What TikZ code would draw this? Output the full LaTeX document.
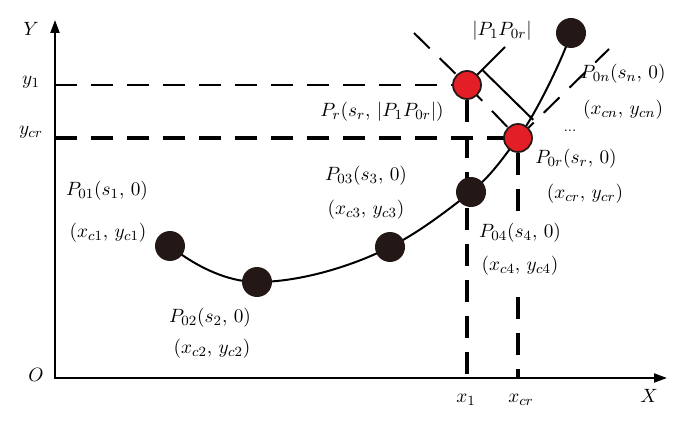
\documentclass[tikz,border=0pt]{standalone}
\usepackage{tikz}
\usetikzlibrary{arrows.meta,backgrounds,calc}
\definecolor{ptred}{RGB}{228,30,38}
\definecolor{ptblack}{RGB}{35,24,21}
\tikzset{
  blackpt/.style={circle,fill=ptblack,minimum size=0.6cm,inner sep=0pt},
  redpt/.style={circle,fill=ptred,draw=ptblack,line width=0.035cm,minimum size=0.56cm,inner sep=0pt},
  lbl/.style={font=\fontsize{11}{13}\selectfont,inner sep=0pt},
  lblbg/.style={lbl,fill=white,inner xsep=1pt,inner ysep=5pt},
  axis/.style={line width=0.04cm,line join=miter,{Triangle[length=0.26cm,width=0.18cm]}-{Triangle[length=0.26cm,width=0.18cm]}},
  thindash/.style={line width=0.04cm,dash pattern=on 0.44cm off 0.28cm},
  thickdash/.style={line width=0.065cm,dash pattern=on 0.44cm off 0.28cm},
  curve/.style={line width=0.04cm}
}
\begin{document}
\begin{tikzpicture}[x=0.02cm,y=-0.02cm]
\useasboundingbox (0,0) rectangle (685,428);

% axes
\coordinate (o) at (55,378);
\coordinate (ytop) at (55,20);
\coordinate (xend) at (667,378);
\draw[axis] (ytop) -- (o) -- (xend);

% points on the curve
\node[blackpt] (p01) at (170,246) {};
\node[blackpt] (p02) at (257,282) {};
\node[blackpt] (p03) at (390,247) {};
\node[blackpt] (p04) at (471,192) {};
\node[redpt] (p0r) at (518,138) {};
\node[blackpt] (p0n) at (571,33) {};
\node[redpt] (pr) at (467,85) {};

\coordinate (y1) at (55,85);
\coordinate (ycr) at (55,138);
\coordinate (dgtop) at (414,33);
\coordinate (tgend) at (609,49);
\coordinate (brk) at (505,47);
\coordinate (bk1) at ($(pr.center)!0.4!(brk)$);
\coordinate (bk2) at ($(bk1)+(51,50)$);

\begin{scope}[on background layer]
  \draw[curve] (p01.center) .. controls +(25,20) and +(-30,0) .. (p02.center)
    .. controls +(45,0) and +(-35,18) .. (p03.center)
    .. controls +(30,-15) and +(-22,17) .. (p04.center)
    .. controls +(20,-16) and +(-15,20) .. (p0r.center)
    .. controls +(18,-24) and +(-8,25) .. (p0n.center);
  \draw[thindash] (y1) -- (pr.center);
  \draw[thickdash] (ycr) -- (p0r.center);
  \draw[thickdash] (pr.south) -- (pr.south |- o);
  \draw[thickdash] (p0r.south) -- (p0r.south |- o);
  \draw[thindash] (dgtop) -- (pr.center);
  \draw[thindash] (pr.center) -- (p0r.center);
  \draw[thindash] (p0r.center) -- (tgend);
  \draw[curve] (pr.center) -- (brk);
  \draw[curve] (bk1) -- (bk2);
\end{scope}

% axis labels
\node[lbl] (ly) at (31,29) {$Y$};
\node[lbl] (ly1) at (31,82) {$y_1$};
\node[lbl] (lycr) at (31,132) {$y_{cr}$};
\node[lbl] (lo) at (36,375) {$O$};
\node[lbl] (lx1) at (466,400) {$x_1$};
\node[lbl] (lxcr) at (521,400) {$x_{cr}$};
\node[lbl] (lx) at (649,396) {$X$};

% point labels
\node[lbl] (l01a) at (107,191) {$P_{01}(s_1,\,0)$};
\node[lbl] (l01b) at (108,233) {$(x_{c1},\,y_{c1})$};
\node[lbl] (l02a) at (210,318) {$P_{02}(s_2,\,0)$};
\node[lbl] (l02b) at (212,349) {$(x_{c2},\,y_{c2})$};
\node[lbl] (l03a) at (366,176) {$P_{03}(s_3,\,0)$};
\node[lbl] (l03b) at (366,210) {$(x_{c3},\,y_{c3})$};
\node[lblbg] (l04a) at (520,233) {$P_{04}(s_4,\,0)$};
\node[lblbg] (l04b) at (520,266) {$(x_{c4},\,y_{c4})$};
\node[lbl] (l0ra) at (576,159) {$P_{0r}(s_r,\,0)$};
\node[lbl] (l0rb) at (585,194) {$(x_{cr},\,y_{cr})$};
\node[lbl] (l0na) at (623,74) {$P_{0n}(s_n,\,0)$};
\node[lbl] (l0nb) at (623,110) {$(x_{cn},\,y_{cn})$};
\node[lbl,font=\footnotesize] (ldots) at (570,131) {...};
\node[lbl] (lpr) at (382,112) {$P_r(s_r,\,|P_1P_{0r}|)$};
\node[lbl] (ldist) at (502,31) {$|P_1P_{0r}|$};
\end{tikzpicture}
\end{document}
